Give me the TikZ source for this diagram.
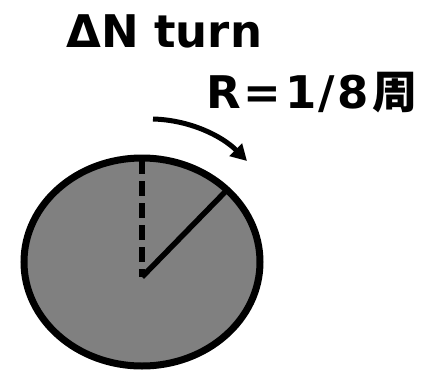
\documentclass[tikz,border=0pt]{standalone}
\usepackage{fontspec}
\setmainfont{DejaVu Sans}
\newfontfamily\jpfont{Noto Sans CJK JP}
\usetikzlibrary{arrows.meta}

\begin{document}
\begin{tikzpicture}[
    x=1pt, y=-1pt,
    label/.style={font=\fontsize{45}{50}\selectfont\bfseries, inner sep=0pt},
    disc/.style={draw, line width=7pt, fill=black!50},
    radius line/.style={line width=5.5pt},
    turn arrow/.style={-{Triangle[length=16pt, width=17pt]}, line width=5pt}
  ]
    \useasboundingbox (0,0) rectangle (423,372);

    % title texts
    \node[label, anchor=base west] (dn) at (66,47)  {ΔN turn};
    \node[label, anchor=base west] (rr) at (206,108)
      {R\kern3pt=\kern4pt1\kern2pt/\kern2pt8\kern4pt{\jpfont\bfseries 周}};

    % the disc
    \draw[disc] (142,262) ellipse [x radius=118, y radius=104];
    \coordinate (c)   at (142,277);
    \coordinate (top) at (142,159);
    \coordinate (rim) at (225,192);
    \draw[radius line, dash pattern=on 15pt off 7pt] (top) -- (c);
    \draw[radius line] (c) -- (rim);

    % rotation arrow
    \coordinate (a0) at (153,119);
    \coordinate (a1) at (247,161);
    \draw[turn arrow] (a0) .. controls (190,120) and (222,136) .. (a1);
  \end{tikzpicture}
\end{document}
